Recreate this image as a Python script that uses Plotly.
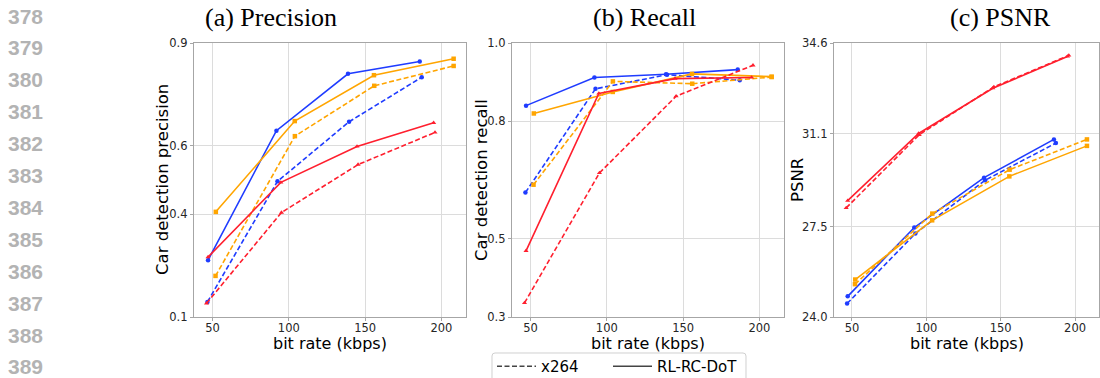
import plotly.graph_objects as go

W, H = 1100, 378

# ---------------- data ----------------
x_ticks = [50, 100, 150, 200]
x_tick_labels = ["50", "100", "150", "200"]

blue_x264_kbps = [46.7, 92.6, 139.5, 187.1]
blue_rl_kbps = [47.1, 91.9, 138.8, 185.8]
orange_x264_kbps = [52.0, 104.0, 156.0, 208.0]
orange_rl_kbps = [52.2, 103.9, 155.8, 208.0]
red_x264_kbps = [46.1, 95.2, 145.4, 195.8]
red_rl_kbps = [47.1, 94.8, 144.7, 194.9]

prec_blue_rl = [0.266, 0.644, 0.810, 0.846]
prec_blue_x264 = [0.144, 0.496, 0.670, 0.800]
prec_orange_rl = [0.407, 0.672, 0.806, 0.854]
prec_orange_x264 = [0.220, 0.628, 0.775, 0.833]
prec_red_rl = [0.275, 0.493, 0.598, 0.667]
prec_red_x264 = [0.140, 0.405, 0.545, 0.639]

rec_blue_rl = [0.840, 0.912, 0.920, 0.932]
rec_blue_x264 = [0.618, 0.883, 0.919, 0.905]
rec_orange_rl = [0.820, 0.875, 0.921, 0.914]
rec_orange_x264 = [0.638, 0.902, 0.896, 0.913]
rec_red_rl = [0.469, 0.871, 0.909, 0.912]
rec_red_x264 = [0.336, 0.668, 0.864, 0.943]

psnr_blue_rl = [24.80, 27.46, 29.39, 30.87]
psnr_blue_x264 = [24.52, 27.23, 29.29, 30.73]
psnr_orange_rl = [25.45, 27.74, 29.44, 30.62]
psnr_orange_x264 = [25.27, 28.00, 29.70, 30.87]
psnr_red_rl = [28.50, 31.10, 32.85, 34.08]
psnr_red_x264 = [28.22, 31.05, 32.90, 34.12]

prec_ticks = [0.1, 0.4, 0.6, 0.9]
rec_ticks = [0.3, 0.5, 0.8, 1.0]
psnr_ticks = [24.0, 27.5, 31.1, 34.6]
prec_tick_labels = ["0.1", "0.4", "0.6", "0.9"]
rec_tick_labels = ["0.3", "0.5", "0.8", "1.0"]
psnr_tick_labels = ["24.0", "27.5", "31.1", "34.6"]

titles = ["(a) Precision", "(b) Recall", "(c) PSNR"]
y_titles = ["Car detection precision", "Car detection recall", "PSNR"]
x_title = "bit rate (kbps)"
legend_names = ["x264", "RL-RC-DoT"]
line_numbers = [str(n) for n in range(378, 390)]

# ---------------- styling ----------------
BLUE = "#1f3cff"
ORANGE = "#ffa500"
RED = "#ff1f2e"
SANS = "DejaVu Sans"
SERIF = "Liberation Serif"
DASH = "5px,2.5px"

panels_px = [(194, 466), (512, 784), (834, 1099)]
top_px, bottom_px = 43, 317
x_range = [37.9, 216.1]
y_ranges = [[0.1, 0.9], [0.3, 1.0], [24.0, 34.6]]

fig = go.Figure()

panel_series = [
    [(blue_x264_kbps, prec_blue_x264, BLUE, DASH, "circle"),
     (blue_rl_kbps, prec_blue_rl, BLUE, "solid", "circle"),
     (orange_x264_kbps, prec_orange_x264, ORANGE, DASH, "square"),
     (orange_rl_kbps, prec_orange_rl, ORANGE, "solid", "square"),
     (red_x264_kbps, prec_red_x264, RED, DASH, "triangle-up"),
     (red_rl_kbps, prec_red_rl, RED, "solid", "triangle-up")],
    [(blue_x264_kbps, rec_blue_x264, BLUE, DASH, "circle"),
     (blue_rl_kbps, rec_blue_rl, BLUE, "solid", "circle"),
     (orange_x264_kbps, rec_orange_x264, ORANGE, DASH, "square"),
     (orange_rl_kbps, rec_orange_rl, ORANGE, "solid", "square"),
     (red_x264_kbps, rec_red_x264, RED, DASH, "triangle-up"),
     (red_rl_kbps, rec_red_rl, RED, "solid", "triangle-up")],
    [(blue_x264_kbps, psnr_blue_x264, BLUE, DASH, "circle"),
     (blue_rl_kbps, psnr_blue_rl, BLUE, "solid", "circle"),
     (orange_x264_kbps, psnr_orange_x264, ORANGE, DASH, "square"),
     (orange_rl_kbps, psnr_orange_rl, ORANGE, "solid", "square"),
     (red_x264_kbps, psnr_red_x264, RED, DASH, "triangle-up"),
     (red_rl_kbps, psnr_red_rl, RED, "solid", "triangle-up")],
]

for i, series in enumerate(panel_series):
    suffix = "" if i == 0 else str(i + 1)
    for xs, ys, col, dash, sym in series:
        fig.add_trace(go.Scatter(
            x=xs, y=ys, mode="lines+markers",
            line=dict(color=col, width=1.6, dash=dash),
            marker=dict(color=col, size=4.5, symbol=sym),
            xaxis="x" + suffix, yaxis="y" + suffix, showlegend=False,
            hoverinfo="skip"))

# legend proxies (one per legend so each entry can sit where the reference has it)
for name, dash, lg in zip(legend_names, [DASH, "solid"], ["legend", "legend2"]):
    fig.add_trace(go.Scatter(x=[None], y=[None], mode="lines", name=name,
                             line=dict(color="#444444", width=1.6, dash=dash),
                             showlegend=True, legend=lg))

y_dom = [1 - bottom_px / H, 1 - top_px / H]
tick_sets = [(prec_ticks, prec_tick_labels), (rec_ticks, rec_tick_labels), (psnr_ticks, psnr_tick_labels)]
axis_common = dict(showline=True, linecolor="#a6a6a6", linewidth=1.2, mirror=True,
                   showgrid=True, gridcolor="#dcdcdc", gridwidth=1, zeroline=False,
                   ticks="outside", ticklen=3, tickcolor="#a6a6a6", tickwidth=1,
                   tickfont=dict(family=SANS, size=11.5, color="#262626"))
layout = {}
for i, ((x0, x1), yr, (tv, tt)) in enumerate(zip(panels_px, y_ranges, tick_sets)):
    suffix = "" if i == 0 else str(i + 1)
    layout["xaxis" + suffix] = dict(domain=[x0 / W, x1 / W], range=x_range,
                                    anchor="y" + suffix, tickvals=x_ticks, ticktext=x_tick_labels,
                                    ticklabelstandoff=-3, **axis_common)
    layout["yaxis" + suffix] = dict(domain=y_dom, range=yr, anchor="x" + suffix,
                                    tickvals=tv, ticktext=tt, **axis_common)

annotations = []
title_cx = [271, 644, 1000]
for t, cx in zip(titles, title_cx):
    annotations.append(dict(text=t, x=cx / W, y=1 - 17 / H, xref="paper", yref="paper",
                            xanchor="center", yanchor="middle", showarrow=False,
                            font=dict(family=SERIF, size=26, color="black")))
ytitle_cx = [162, 481, 797]
for t, cx in zip(y_titles, ytitle_cx):
    annotations.append(dict(text=t, x=cx / W, y=1 - 180 / H, xref="paper", yref="paper",
                            xanchor="center", yanchor="middle", showarrow=False, textangle=-90,
                            font=dict(family=SANS, size=16.5, color="black")))
for (x0, x1) in panels_px:
    annotations.append(dict(text=x_title, x=(x0 + x1) / 2 / W, y=1 - 343 / H, xref="paper",
                            yref="paper", xanchor="center", yanchor="middle", showarrow=False,
                            font=dict(family=SANS, size=16, color="black")))
for k, ln in enumerate(line_numbers):
    annotations.append(dict(text="<b>" + ln + "</b>", x=25 / W, y=1 - (16 + 31.9 * k) / H,
                            xref="paper", yref="paper", xanchor="center", yanchor="middle",
                            showarrow=False,
                            font=dict(family="Liberation Sans", size=21, color="#b3b3b3")))

# legend frame (bottom runs past the edge, as in the reference)
bx0, bx1, by0, by1, r = 492, 746, 353, 392, 3
frame_path = (f"M {bx0 + r},{by0} L {bx1 - r},{by0} Q {bx1},{by0} {bx1},{by0 + r} "
              f"L {bx1},{by1} L {bx0},{by1} L {bx0},{by0 + r} Q {bx0},{by0} {bx0 + r},{by0} Z")
shapes = [dict(type="path", xref="x domain", yref="y domain", path="M 0,0", visible=False)]
# convert pixel path to paper coordinates
def _px_to_paper_path():
    pts = []
    toks = frame_path.split()
    out = []
    for tok in toks:
        if "," in tok:
            a, b = tok.split(",")
            out.append(f"{float(a) / W:.5f},{1 - float(b) / H:.5f}")
        else:
            out.append(tok)
    return " ".join(out)
shapes = [dict(type="path", xref="paper", yref="paper", path=_px_to_paper_path(),
               line=dict(color="#d0d0d0", width=1), fillcolor="rgba(255,255,255,0)", layer="below")]

legend_common = dict(orientation="h", yanchor="middle", y=1 - 366.5 / H, xanchor="left",
                     borderwidth=0, bgcolor="rgba(0,0,0,0)", itemwidth=39,
                     font=dict(family=SANS, size=15, color="black"))

fig.update_layout(
    width=W, height=H, margin=dict(l=0, r=0, t=0, b=0, pad=0, autoexpand=False),
    paper_bgcolor="white", plot_bgcolor="white",
    annotations=annotations, shapes=shapes,
    legend=dict(x=492 / W, **legend_common),
    legend2=dict(x=608 / W, **legend_common),
    **layout)

fig.write_html("out.html", config={"displayModeBar": False},
               post_script="document.body.style.margin='0';document.body.style.overflow='hidden';")
